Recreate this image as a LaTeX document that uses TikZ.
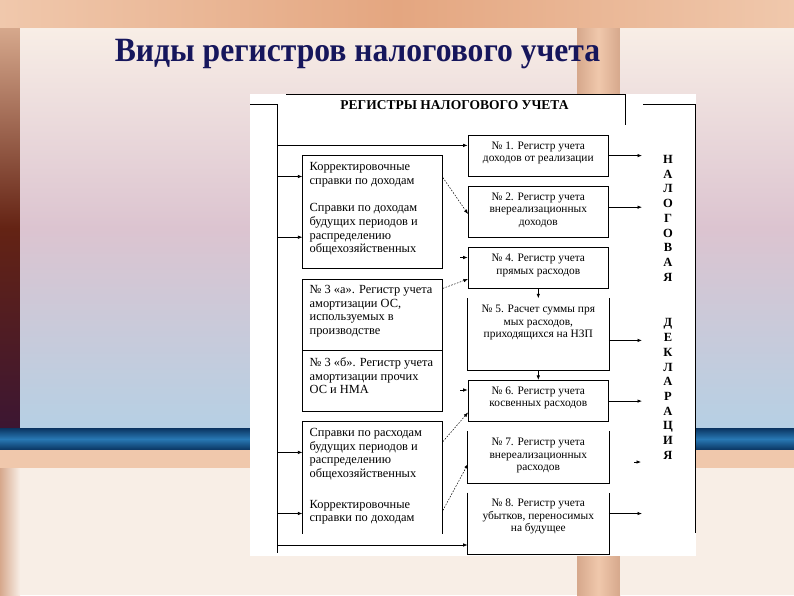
\documentclass[tikz,border=0pt]{standalone}
\usepackage{fontspec}
\setmainfont{Liberation Serif}
\newfontfamily\titlefont[FakeStretch=0.93]{Liberation Serif}
\usetikzlibrary{arrows.meta}
\definecolor{titleblue}{RGB}{22,22,92}
\definecolor{peachA}{RGB}{240,200,172}
\definecolor{peachB}{RGB}{228,166,128}
\definecolor{tanA}{RGB}{214,168,140}
\definecolor{creamA}{RGB}{248,238,230}
\definecolor{lavA}{RGB}{220,196,208}
\definecolor{bluA}{RGB}{182,208,228}
\definecolor{navyA}{RGB}{10,52,96}
\definecolor{navyB}{RGB}{40,120,180}
\definecolor{brownA}{RGB}{100,35,20}
\definecolor{purpA}{RGB}{60,22,50}
\tikzset{
  ln/.style={line width=0.7pt},
  arr/.style={ln,-{Latex[length=4.5pt,width=3.5pt]}},
  darr/.style={line width=0.5pt,dash pattern=on 1.6pt off 1.4pt,-{Latex[length=4.5pt,width=3.5pt]}},
  rbox/.style={draw,ln,rectangle,minimum width=140.6pt,inner sep=0pt},
  obox/.style={rbox,draw=none},
  lbox/.style={draw,ln,rectangle,minimum width=139.2pt,inner sep=0pt},
  rtxt/.style={anchor=north,align=center,inner sep=0pt,font=\fontsize{11.4}{12.5}\selectfont},
  ltxt/.style={anchor=north west,align=left,inner sep=0pt,font=\fontsize{12.4}{13.7}\selectfont},
  vtxt/.style={align=center,inner sep=0pt,font=\fontsize{12.5}{14.7}\selectfont\bfseries},
}
\begin{document}
\begin{tikzpicture}[x=1pt,y=-1pt]
\useasboundingbox (0,0) rectangle (794,595);
% ---------- background ----------
\fill[peachB] (0,0) rectangle (794,595);
\shade[left color=peachA,right color=peachA,middle color=peachB] (0,0) rectangle (794,28);
\shade[top color=tanA,bottom color=purpA,middle color=brownA] (0,28) rectangle (20,428);
\shade[top color=creamA,bottom color=bluA,middle color=lavA] (20,28) rectangle (577,428);
\shade[left color=tanA,right color=tanA,middle color=peachA] (577,28) rectangle (620,428);
\shade[top color=creamA,bottom color=bluA,middle color=lavA] (620,28) rectangle (794,428);
\shade[top color=navyA,bottom color=navyA,middle color=navyB] (0,428) rectangle (794,450);
\fill[peachA] (0,450) rectangle (794,468);
\shade[left color=tanA,right color=creamA] (0,468) rectangle (20,595);
\fill[creamA] (20,468) rectangle (577,595);
\shade[left color=tanA,right color=tanA,middle color=peachA] (577,468) rectangle (620,595);
\fill[creamA] (620,468) rectangle (794,595);
\fill[white] (250,94) rectangle (696,556);
% ---------- titles ----------
\node[font=\titlefont\fontsize{34}{38}\selectfont\bfseries,text=titleblue] (title) at (357.5,54) {Виды регистров налогового учета};
\node[font=\fontsize{13.5}{15}\selectfont\bfseries] (head) at (454.5,105.5) {РЕГИСТРЫ НАЛОГОВОГО УЧЕТА};
% ---------- frame lines ----------
\coordinate (tl) at (286,94.5);
\coordinate (tr) at (625,94.5);
\coordinate (trb) at (625,124.5);
\draw[ln] (tl) -- (tr) -- (trb);
\coordinate (lt0) at (250,104.5);
\coordinate (lt1) at (277.5,104.5);
\coordinate (lb) at (277.5,553);
\draw[ln] (lt0) -- (lt1) -- (lb);
\coordinate (rt0) at (643,104.5);
\coordinate (rt1) at (695,104.5);
\coordinate (rb) at (695,533);
\draw[ln] (rt0) -- (rt1) -- (rb);
% ---------- right boxes ----------
\node[rbox,minimum height=41pt] (r1) at (538.3,156) {};
\node[rbox,minimum height=51.3pt] (r2) at (538.3,211.95) {};
\node[rbox,minimum height=40.6pt] (r4) at (538.3,268.1) {};
\node[obox,minimum height=71.3pt] (r5) at (538.3,334.35) {};
\node[rbox,minimum height=41pt] (r6) at (538.3,400.8) {};
\node[obox,minimum height=51pt] (r7) at (538.3,457) {};
\node[obox,minimum height=61pt] (r8) at (538.3,523.5) {};
\draw[ln] (r5.north west) -- (r5.south west) -- (r5.south east) -- (r5.north east);
\draw[ln] (r7.north west) -- (r7.south west) -- (r7.south east) -- (r7.north east);
\draw[ln] (r8.north west) -- (r8.south west) -- (r8.south east) -- (r8.north east);
\node[rtxt] (t1) at ([yshift=-6.5pt]r1.north) {№ 1. Регистр учета\\доходов от реализации};
\node[rtxt] (t2) at ([yshift=-6.5pt]r2.north) {№ 2. Регистр учета\\внереализационных\\доходов};
\node[rtxt] (t4) at ([yshift=-6.5pt]r4.north) {№ 4. Регистр учета\\прямых расходов};
\node[rtxt] (t5) at ([yshift=-6.5pt]r5.north) {№ 5. Расчет суммы пря\\мых расходов,\\приходящихся на НЗП};
\node[rtxt] (t6) at ([yshift=-6.5pt]r6.north) {№ 6. Регистр учета\\косвенных расходов};
\node[rtxt] (t7) at ([yshift=-7pt]r7.north) {№ 7. Регистр учета\\внереализационных\\расходов};
\node[rtxt] (t8) at ([yshift=-6.5pt]r8.north) {№ 8. Регистр учета\\убытков, переносимых\\на будущее};
% ---------- left boxes ----------
\node[lbox,minimum height=113.1pt] (l1) at (372.4,211.75) {};
\node[lbox,minimum height=71.3pt] (l2) at (372.4,314.65) {};
\node[lbox,minimum height=60.7pt] (l3) at (372.4,380.65) {};
\node[lbox,draw=none,minimum height=111.9pt] (l4) at (372.4,477.25) {};
\draw[ln] (l4.south west) -- (l4.north west) -- (l4.north east) -- (l4.south east);
\node[ltxt] (u1) at ([xshift=7pt,yshift=-7.5pt]l1.north west) {Корректировочные\\справки по доходам\\[13.7pt]Справки по доходам\\будущих периодов и\\распределению\\общехозяйственных};
\node[ltxt] (u2) at ([xshift=7pt,yshift=-6.5pt]l2.north west) {№ 3 «а». Регистр учета\\амортизации ОС,\\используемых в\\производстве};
\node[ltxt] (u3) at ([xshift=7pt,yshift=-7.5pt]l3.north west) {№ 3 «б». Регистр учета\\амортизации прочих\\ОС и НМА};
\node[ltxt] (u4) at ([xshift=7pt,yshift=-7pt]l4.north west) {Справки по расходам\\будущих периодов и\\распределению\\общехозяйственных\\[17pt]Корректировочные\\справки по доходам};
% ---------- vertical text ----------
\node[vtxt] (nal) at (668,218.2) {Н\\А\\Л\\О\\Г\\О\\В\\А\\Я};
\node[vtxt] (dek) at (668,389) {Д\\Е\\К\\Л\\А\\Р\\А\\Ц\\И\\Я};
% ---------- connectors from left bus ----------
\coordinate (s1) at (277.5,145.4);
\coordinate (s2) at (277.5,176.5);
\coordinate (s3) at (277.5,237.2);
\coordinate (s4) at (277.5,452.4);
\coordinate (s5) at (277.5,513.5);
\coordinate (s6) at (277.5,545);
\draw[arr] (s1) -- (s1 -| r1.west);
\draw[arr] (s2) -- (s2 -| l1.west);
\draw[arr] (s3) -- (s3 -| l1.west);
\draw[arr] (s4) -- (s4 -| l4.west);
\draw[arr] (s5) -- (s5 -| l4.west);
\draw[arr] (s6) -- (s6 -| r8.west);
% ---------- dashed connectors ----------
\coordinate (d1a) at (442.8,177.5);
\coordinate (d1b) at (468,214);
\coordinate (d2a) at (442.8,288.4);
\coordinate (d2b) at (468,279);
\coordinate (d3a) at (442.8,441.7);
\coordinate (d3b) at (468,412.5);
\coordinate (d4a) at (442.8,510.5);
\coordinate (d4b) at (468,464);
\draw[darr] (d1a) -- (d1b);
\draw[darr] (d2a) -- (d2b);
\draw[darr] (d3a) -- (d3b);
\draw[darr] (d4a) -- (d4b);
% ---------- lone arrow heads ----------
\coordinate (h1) at (460,257.5);
\coordinate (h2) at (460,390);
\coordinate (h3) at (634,462);
\coordinate (h3e) at (641,462);
\draw[arr] (h1) -- (h1 -| r4.west);
\draw[arr] (h2) -- (h2 -| r6.west);
\draw[arr] (h3) -- (h3e);
% ---------- vertical connectors ----------
\draw[arr] (r4.south) -- (r5.north);
\draw[arr] (r5.south) -- (r6.north);
% ---------- outputs ----------
\coordinate (o1) at (642,155.6);
\coordinate (o2) at (642,207.2);
\coordinate (o5) at (642,340.4);
\coordinate (o6) at (642,401.1);
\coordinate (o8) at (642,513.5);
\draw[arr] (o1 -| r1.east) -- (o1);
\draw[arr] (o2 -| r2.east) -- (o2);
\draw[arr] (o5 -| r5.east) -- (o5);
\draw[arr] (o6 -| r6.east) -- (o6);
\draw[arr] (o8 -| r8.east) -- (o8);
\end{tikzpicture}
\end{document}
